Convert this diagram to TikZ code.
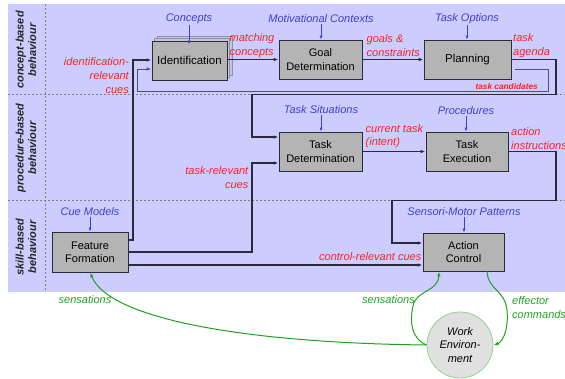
\documentclass[tikz,border=0pt]{standalone}
\usepackage{fontspec}
\setmainfont{Liberation Sans}
\setsansfont{Liberation Sans}
\usetikzlibrary{arrows.meta,calc}
\definecolor{lav}{HTML}{CCCCFF}
\definecolor{boxgray}{HTML}{B4B4B4}
\definecolor{lblred}{HTML}{FF2020}
\definecolor{lblblue}{HTML}{4040D0}
\definecolor{lblgreen}{HTML}{20A020}
\definecolor{linedark}{HTML}{2A2A3A}
\definecolor{lightgreen}{HTML}{90D090}
\definecolor{wefill}{HTML}{E0E0E0}
\definecolor{candline}{HTML}{505070}
\definecolor{stackfill}{HTML}{C4C4DC}
\definecolor{stackline}{HTML}{9090A8}
\begin{document}
\begin{tikzpicture}[x=1pt,y=-1pt,
  every node/.style={font=\fontsize{11}{13.4}\selectfont, inner sep=0pt},
  box/.style={draw=linedark, fill=boxgray, line width=0.9pt, align=center},
  redlbl/.style={text=lblred, font=\fontsize{11}{13.6}\selectfont\itshape},
  bluelbl/.style={text=lblblue, font=\fontsize{11}{13.4}\selectfont\itshape},
  greenlbl/.style={text=lblgreen, font=\fontsize{11}{13.6}\selectfont\itshape},
  conn/.style={draw=linedark, line width=1.1pt, -{Latex[length=5pt,width=3.5pt]}},
  candconn/.style={draw=candline, line width=0.9pt, -{Latex[length=5pt,width=3.5pt]}},
  bluearr/.style={draw=lblblue, line width=0.7pt, -{Latex[length=4pt,width=3pt]}},
  grn/.style={draw=lblgreen, line width=1pt, -{Latex[length=5pt,width=3.5pt]}},
  sidelbl/.style={rotate=90, align=center, font=\fontsize{11}{12.5}\selectfont\bfseries\itshape, text=black!85},
  sep/.style={draw=gray, line width=0.6pt, dash pattern=on 2pt off 2pt},
  stack/.style={draw=stackline, fill=stackfill, line width=0.6pt}
]
\useasboundingbox (0,0) rectangle (565,379);
% background band
\fill[lav] (8,4) rectangle (565,292);
\draw[sep] (45,4) -- (45,292);
\draw[sep] (8,94.5) -- (565,94.5);
\draw[sep] (8,200.5) -- (565,200.5);

% side labels
\node[sidelbl] (s1) at (26,50) {concept-based\\behaviour};
\node[sidelbl] (s2) at (26,148) {procedure-based\\behaviour};
\node[sidelbl] (s3) at (26,247) {skill-based\\behaviour};

% identification stack
\draw[stack] (157,36) rectangle (232,75);
\draw[stack] (154.5,38.5) rectangle (229.5,77.5);
\node[box, minimum width=75, minimum height=39, font=\fontsize{11.5}{13.4}\selectfont] (ident) at (189.5,60.5) {Identification};
\node[box, minimum width=83, minimum height=39] (goal) at (320.5,59.5) {Goal\\Determination};
\node[box, minimum width=87, minimum height=39, font=\fontsize{11.5}{13.4}\selectfont] (plan) at (467.5,59.5) {Planning};
\node[box, minimum width=83, minimum height=39] (tdet) at (320.5,151.5) {Task\\Determination};
\node[box, minimum width=82, minimum height=39] (texe) at (467,151.5) {Task\\Execution};
\node[box, minimum width=76, minimum height=40] (ff) at (90,252) {Feature\\Formation};
\node[box, minimum width=81, minimum height=38] (ac) at (463.5,252) {Action\\Control};
\node[circle, draw=lightgreen, fill=wefill, line width=0.8pt, minimum size=66, align=center,
      font=\fontsize{11}{13.4}\selectfont\itshape] (we) at (460,345) {Work\\Environ-\\ment};

% blue labels
\node[bluelbl] (lcon) at (189,19) {Concepts};
\node[bluelbl] (lmot) at (321,19) {Motivational Contexts};
\node[bluelbl] (lopt) at (467,19) {Task Options};
\node[bluelbl] (lsit) at (321,110) {Task Situations};
\node[bluelbl] (lpro) at (466,111) {Procedures};
\node[bluelbl] (lcue) at (90,212) {Cue Models};
\node[bluelbl] (lsmp) at (464,212) {Sensori-Motor Patterns};
\draw[bluearr] (lcon.south) ++(0,1) -- ([yshift=-4]lcon.south |- ident.north);
\draw[bluearr] (lmot.south) ++(0,1) -- (lmot.south |- goal.north);
\draw[bluearr] (lopt.south) ++(0,1) -- (lopt.south |- plan.north);
\draw[bluearr] (lsit.south) ++(0,1) -- (lsit.south |- tdet.north);
\draw[bluearr] (lpro.south) ++(0,1) -- (lpro.south |- texe.north);
\draw[bluearr] (lcue.south) ++(0,1) -- (lcue.south |- ff.north);
\draw[bluearr] (lsmp.south) ++(0,1) -- (lsmp.south |- ac.north);

% red labels
\node[redlbl, align=right, anchor=east] (lidc) at (129,75.5) {identification-\\relevant\\cues};
\node[redlbl, align=left, anchor=west] (lmat) at (229.5,45.5) {matching\\concepts};
\node[redlbl, align=left, anchor=west] (lgoa) at (366.5,45.5) {goals \&\\constraints};
\node[redlbl, align=left, anchor=west] (lage) at (513,45.5) {task\\agenda};
\node[text=lblred, font=\fontsize{8.3}{10}\selectfont\bfseries\itshape, anchor=east] (lcan) at (538,87) {task candidates};
\node[redlbl, align=right, anchor=east] (ltrc) at (248.5,177.5) {task-relevant\\cues};
\node[redlbl, align=left, anchor=west] (lcur) at (365.5,136) {current task\\(intent)};
\node[redlbl, align=left, anchor=west] (lact) at (511,138.5) {action\\instructions};
\node[redlbl, anchor=east] (lcrc) at (421.5,257) {control-relevant cues};

% green labels
\node[greenlbl] (lsen1) at (85,300) {sensations};
\node[greenlbl, anchor=east] (lsen2) at (415,300) {sensations};
\node[greenlbl, align=left, anchor=west] (leff) at (512,307.5) {effector\\commands};

% connectors
\draw[conn] (ident.east |- goal.west) -- (goal.west);
\draw[conn] (goal.east) -- (plan.west);
\draw[conn] (tdet.east) -- (texe.west);
\draw[conn] (plan.east) -| (556,94.5) -| (252,137) -- (tdet.west |- 0,137);
\draw[candconn] ([xshift=4pt]plan.east |- 0,69) -| (548,91) -| (137,69) -- (ident.west |- 0,69);
\draw[conn] (ff.east |- 0,240) -| (133,60) -- (ident.west |- 0,60);
\draw[conn] (ff.east) -| (252,163) -- (tdet.west |- 0,163);
\draw[conn] (ff.east |- 0,265) -- (ac.west |- 0,265);
\draw[conn] (texe.east) -| (556,200.5) -| (392,243) -- (ac.west |- 0,243);

% green curves
\draw[grn] (we.west) .. controls (250,343) and (110,320) .. (ff.south);
\draw[grn] (we.west) .. controls (410,338) and (410,320) .. (413,306)
           .. controls (416,290) and (438,292) .. (ac.south -| 439,0);
\draw[grn] (ac.south -| 487,0) .. controls (488,290) and (505,290) .. (507,310)
           .. controls (509,335) and (500,343) .. (we.east);
\end{tikzpicture}
\end{document}
